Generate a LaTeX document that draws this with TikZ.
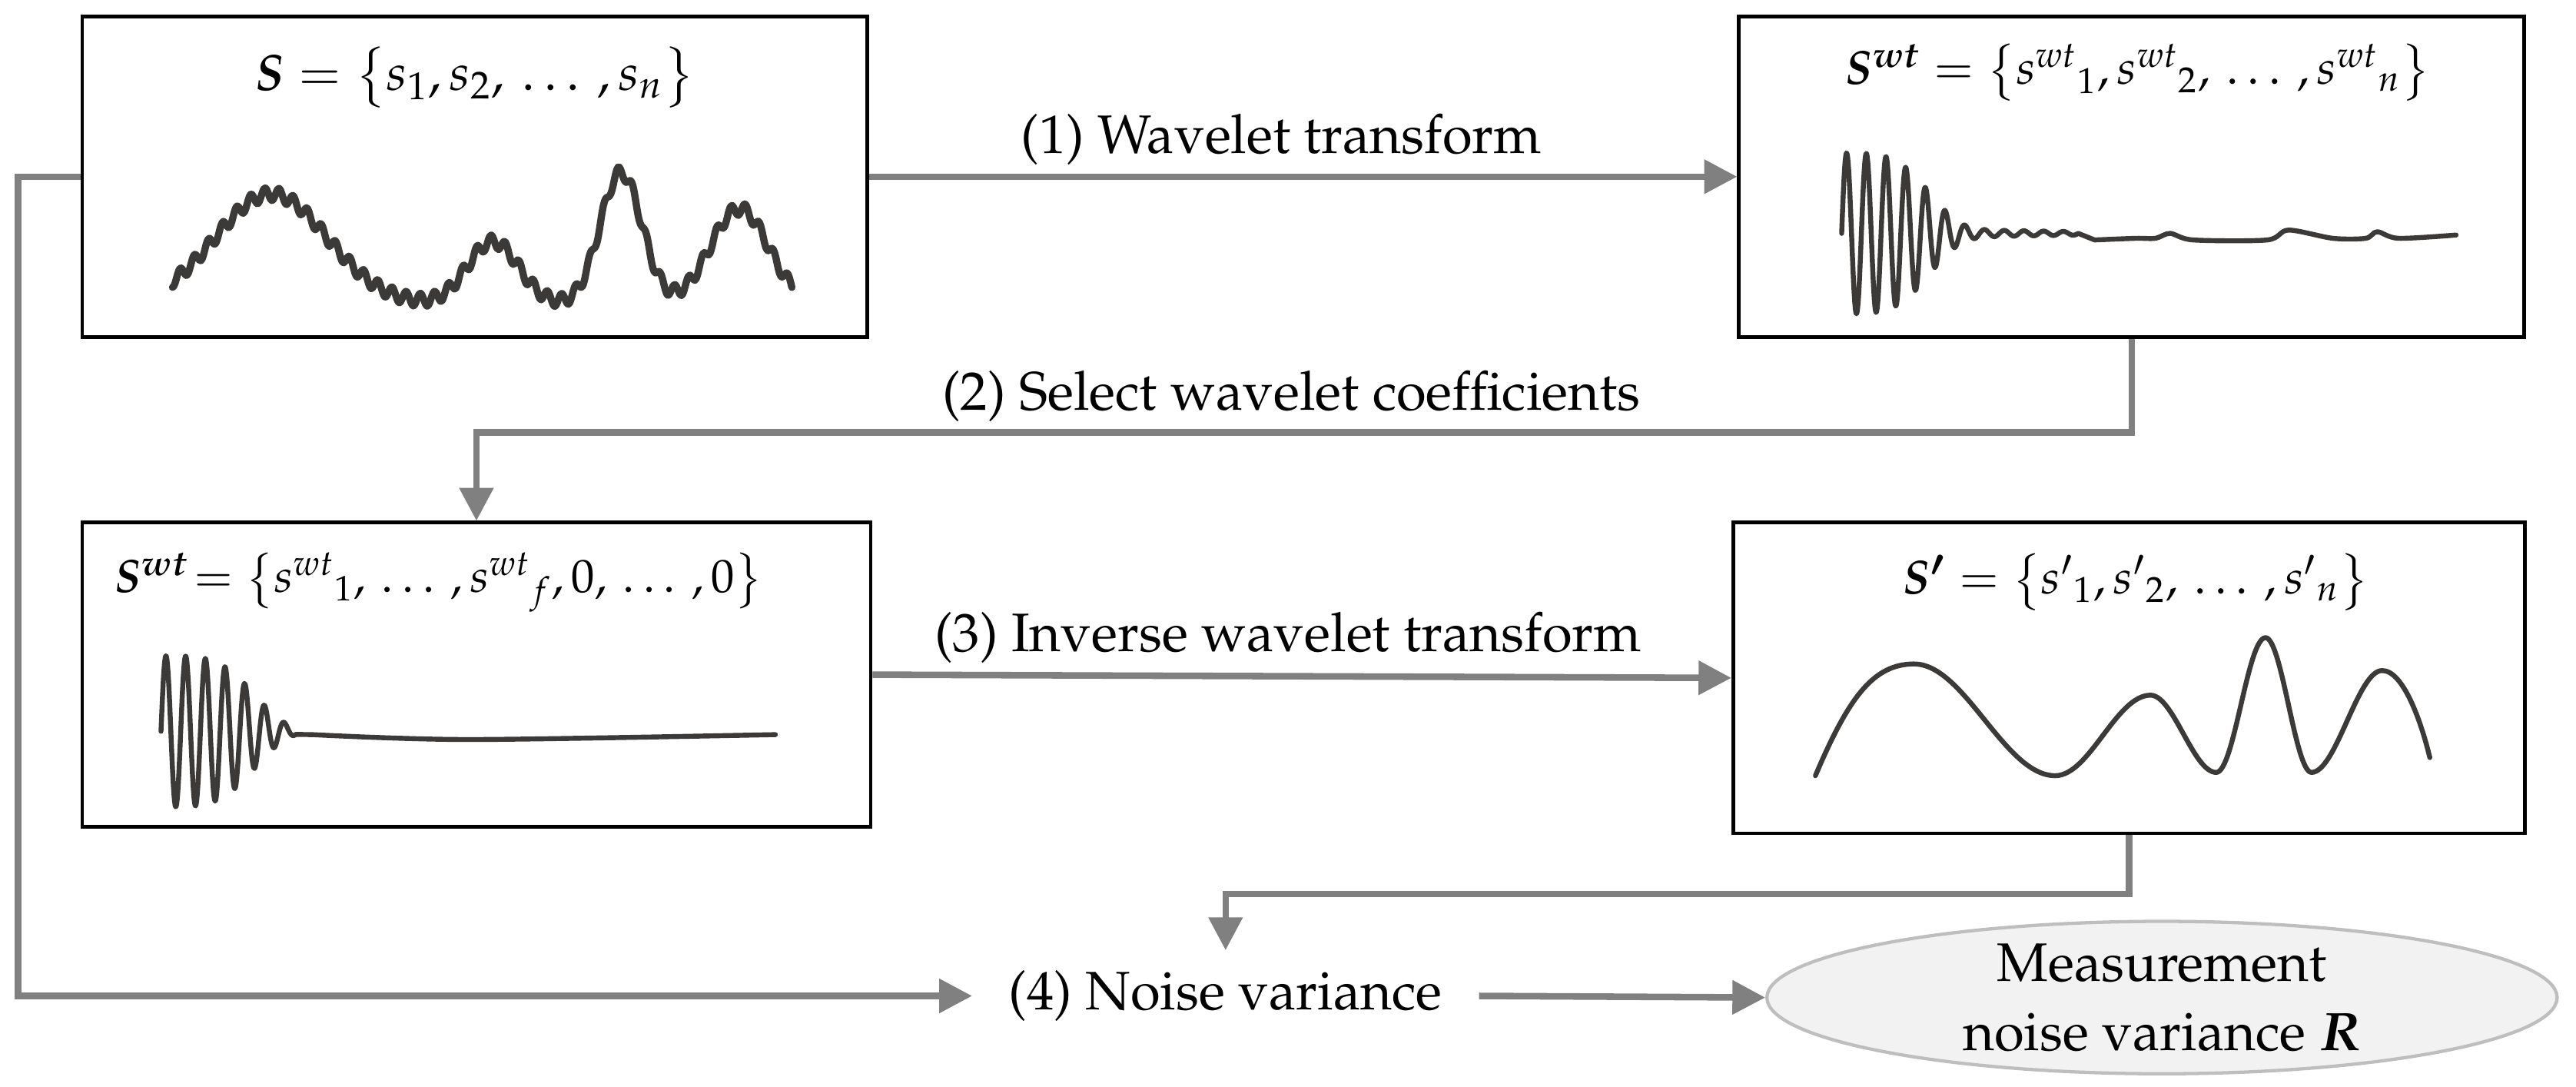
\documentclass[tikz,border=0pt]{standalone}
\usepackage[T1]{fontenc}
\usepackage{mathpazo}
\usepackage{bm}
\usetikzlibrary{arrows.meta,shapes.geometric}

\definecolor{linegray}{RGB}{128,128,128}
\definecolor{wavegray}{RGB}{60,58,56}
\definecolor{ellline}{RGB}{190,190,190}
\definecolor{ellfill}{RGB}{242,242,242}

\tikzset{
  sigbox/.style={draw=black, line width=1.1pt, minimum width=239pt, minimum height=97.5pt, inner sep=0pt},
  flow/.style={draw=linegray, line width=2pt, -{Triangle[length=10pt,width=10pt]}},
  wave/.style={draw=wavegray, line width=1.5pt, line join=round, line cap=round},
}

\begin{document}
\begin{tikzpicture}[x=0.5pt, y=-0.5pt, font=\fontsize{16.5}{21}\selectfont]
\useasboundingbox (0,0) rectangle (1568,661);

\node[sigbox] (box1) at (289,107.5) {};
\node[sigbox] (box2) at (1297.5,107.5) {};
\node[sigbox, minimum width=240pt, minimum height=92.5pt] (box3) at (290,410.5) {};
\node[sigbox, minimum width=241pt, minimum height=94.5pt] (box4) at (1296,412.5) {};
\node[ellipse, draw=ellline, fill=ellfill, line width=1pt, minimum width=240.5pt,
  minimum height=41.5pt, inner sep=0pt, align=center] (ell) at (1316,607)
  {Measurement\\noise variance $\bm{R}$};
\node[inner xsep=11pt, inner ysep=6pt] (noise) at (746,606) {(4) Noise variance};

\node[font=\fontsize{15.5}{19}\selectfont] (text1) at (289,47)
  {$\bm{S} = \bigl\{s_1, s_2,\,\ldots\,,s_n\bigr\}$};
\node[font=\fontsize{14.5}{18}\selectfont] (text2) at (1301,44)
  {$\bm{S^{wt}} = \bigl\{s^{wt}{}_1, s^{wt}{}_2,\,\ldots\,, s^{wt}{}_n\bigr\}$};
\node[font=\fontsize{14.2}{18}\selectfont] (text3) at (267,354)
  {$\bm{S^{wt}}\!= \bigl\{s^{wt}{}_1,\,\ldots\,, s^{wt}{}_f, 0,\,\ldots\,, 0\bigr\}$};
\node[font=\fontsize{14.5}{18}\selectfont] (text4) at (1300,354)
  {$\bm{S'} = \bigl\{s'{}_1, s'{}_2,\,\ldots\,,s'{}_n\bigr\}$};

\node (text5) at (780,85) {(1) Wavelet transform};
\node (text6) at (786,241) {(2) Select wavelet coefficients};
\node (text7) at (784,388) {(3) Inverse wavelet transform};

% signals
\draw[wave, line width=2.2pt] plot[domain=105:482, samples=500]
  (\x, {185 - 67*exp(max(-9,-(((\x-165)/48)^2))) - 38*exp(max(-9,-(((\x-300)/22)^2)))
   - 80*exp(max(-9,-(((\x-378)/18)^2))) - 58*exp(max(-9,-(((\x-450)/25)^2)))
   + 4*sin(360*mod(\x,8.6)/8.6)});
\draw[wave] plot[domain=1121:1265, samples=400]
  (\x, {142 - (46*exp(max(-9,-(((\x-1121)/58)^4))) + 3*exp(max(-9,-(((\x-1121)/140)^2))))*sin(360*mod(\x-1121,12)/12)})
  -- plot[smooth] coordinates {(1275,146) (1300,145) (1312,145) (1321,142) (1335,146)
  (1380,146) (1393,140) (1420,145) (1440,145) (1447,141) (1460,145) (1495,143)};
\draw[wave] plot[domain=98:180, samples=250]
  (\x, {445 - 46*exp(max(-9,-(((\x-98)/62)^4)))*sin(360*mod(\x-98,12)/12)})
  -- plot[smooth] coordinates {(190,447) (286,450) (472,447)};
\draw[wave] (1105,472) .. controls (1125,425) and (1140,404) .. (1165,404)
  .. controls (1196,404) and (1220,472) .. (1251,472)
  .. controls (1272,472) and (1288,423) .. (1309,423)
  .. controls (1323,423) and (1335,470) .. (1349,470)
  .. controls (1360,470) and (1368,388) .. (1379,388)
  .. controls (1389,388) and (1397,470) .. (1407,470)
  .. controls (1422,470) and (1435,408) .. (1450,408)
  .. controls (1463,408) and (1474,440) .. (1479,461);

% connectors
\draw[flow] (box1.east) -- (box2.west);
\draw[flow] (box2.south) -- ++(0,57) -| (box3.north);
\draw[flow] (box3.east) -- (box4.west);
\draw[flow] (box4.south) -- ++(0,36) -| (noise.north);
\draw[flow] (box1.west) -- ++(-38,0) |- (noise.west);
\draw[flow] (noise.east) -- (ell.west);

\end{tikzpicture}
\end{document}
